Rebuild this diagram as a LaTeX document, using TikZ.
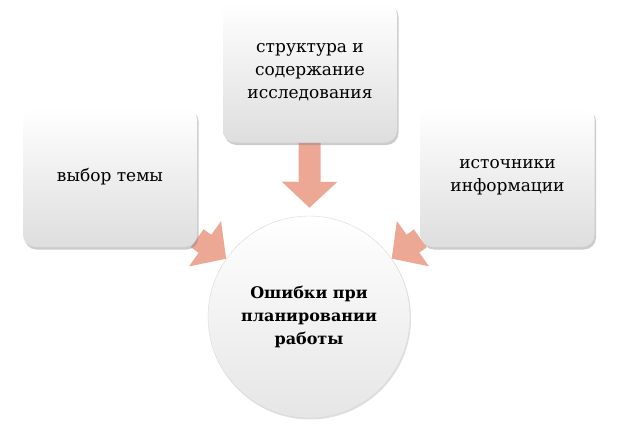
\documentclass[tikz,border=0pt]{standalone}
\usepackage{fontspec}
\setmainfont{DejaVu Serif}
\usetikzlibrary{arrows.meta,shadows,backgrounds}
\definecolor{arrowpink}{RGB}{236,168,148}

\begin{document}
\begin{tikzpicture}[
            x=1pt, y=1pt,
            box/.style={rectangle, rounded corners=12pt, minimum width=174pt, minimum height=140pt, align=center, top color=white, middle color=white, bottom color=black!13, font=\fontsize{17}{23}\selectfont, drop shadow={shadow xshift=1.5pt, shadow yshift=-2.5pt, opacity=0.4}},
            goal/.style={circle, draw=black!15, minimum size=202pt, inner sep=0pt, align=center, top color=white, middle color=white, bottom color=black!10, font=\fontsize{16}{23}\selectfont\bfseries, drop shadow={shadow xshift=1pt, shadow yshift=-1.5pt, opacity=0.25}},
            blockarrow/.style={arrowpink, line width=22pt, -{Triangle[length=26pt, width=54pt]}}
        ]
        \useasboundingbox (0,0) rectangle (618,424);

        % Centre circle
        \node[goal] (errors) at (309,107) {Ошибки при\\планировании\\работы};

        % Outer boxes
        \node[box] (topic) at (110,247) {выбор темы};
        \node[box] (structure) at (310,351.5) {структура и\\содержание\\исследования};
        \node[box] (sources) at (507.5,247) {источники\\информации};

        % Arrows into the centre
        \begin{scope}[on background layer]
        \draw[blockarrow] (topic) -- (errors);
        \draw[blockarrow, shorten >=8pt] (structure) -- (errors);
        \draw[blockarrow] (sources) -- (errors);
        \end{scope}

    \end{tikzpicture}
\end{document}
